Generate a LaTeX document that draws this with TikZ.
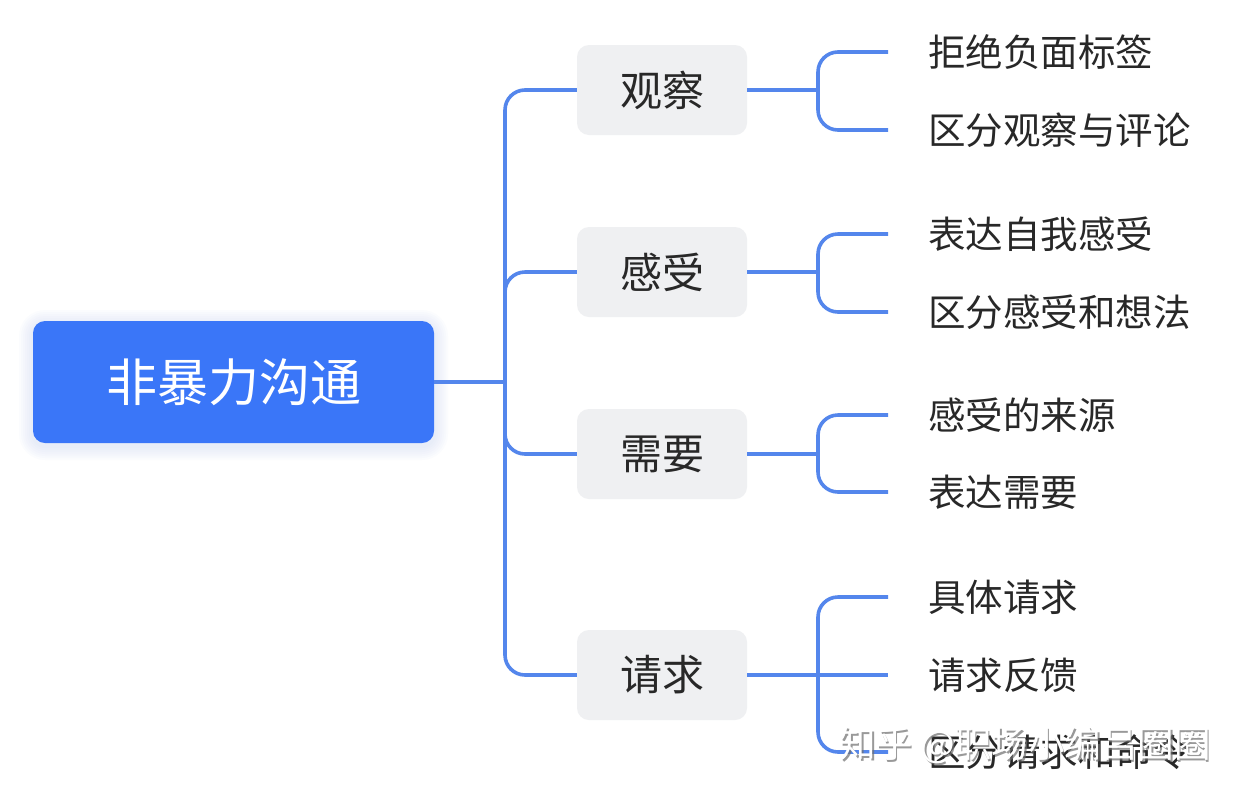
\documentclass[tikz,border=0pt]{standalone}
\usepackage{fontspec}
\setmainfont{Noto Sans CJK SC}
\newfontfamily\wmfont{Noto Sans CJK SC}
\definecolor{rootblue}{RGB}{58,118,248}
\definecolor{linkblue}{RGB}{84,134,236}
\definecolor{boxgray}{RGB}{239,240,242}
\definecolor{textdark}{RGB}{40,40,40}
\definecolor{wmgray}{RGB}{110,110,110}
\tikzset{
  rootbox/.style={fill=rootblue, text=white, rounded corners=12pt, minimum width=401pt, minimum height=122pt, font=\fontsize{51}{51}\selectfont, inner sep=0pt},
  midbox/.style={fill=boxgray, text=textdark, rounded corners=12pt, minimum width=170pt, minimum height=90pt, font=\fontsize{42}{42}\selectfont, inner sep=0pt},
  leaf/.style={anchor=west, text=textdark, font=\fontsize{37.5}{37.5}\selectfont, inner sep=0pt},
  conn/.style={draw=linkblue, line width=3.6pt, rounded corners=20pt},
  wm/.style={font=\wmfont\fontsize{36.5}{36.5}\selectfont, inner sep=0pt, anchor=west},
  glow/.style={fill=rootblue, fill opacity=0.014}
}
\begin{document}
\begin{tikzpicture}[x=1pt,y=-1pt]
\useasboundingbox (0,0) rectangle (1246,796);
\fill[white] (0,0) rectangle (1246,796);

% soft glow behind the root box
\foreach \g in {2,4,...,14} {
  \fill[glow, rounded corners=12pt+\g pt] (33-\g,324-\g) rectangle (434+\g,446+\g);
}

\coordinate (J) at (505,382);
\coordinate (K1) at (818,90);
\coordinate (K2) at (818,272);
\coordinate (K3) at (818,454);
\coordinate (K4) at (818,675);

\node[rootbox] (root) at (233.5,382) {非暴力沟通};
\node[midbox] (m1) at (662,90) {观察};
\node[midbox] (m2) at (662,272) {感受};
\node[midbox] (m3) at (662,454) {需要};
\node[midbox] (m4) at (662,675) {请求};

\node[leaf] (l11) at (928,52) {拒绝负面标签};
\node[leaf] (l12) at (928,130) {区分观察与评论};
\node[leaf] (l21) at (928,234) {表达自我感受};
\node[leaf] (l22) at (928,312) {区分感受和想法};
\node[leaf] (l31) at (928,415) {感受的来源};
\node[leaf] (l32) at (928,492) {表达需要};
\node[leaf] (l41) at (928,597) {具体请求};
\node[leaf] (l42) at (928,675) {请求反馈};
\node[leaf] (l43) at (928,752) {区分请求和命令};

\draw[conn] (root.east) -- (J);
\draw[conn] (J) |- (m1.west);
\draw[conn] (J) |- (m2.west);
\draw[conn] (J) |- (m3.west);
\draw[conn] (J) |- (m4.west);

\draw[conn] (m1.east) -- (K1);
\draw[conn] (K1) |- ([xshift=-40pt]l11.west);
\draw[conn] (K1) |- ([xshift=-40pt]l12.west);
\draw[conn] (m2.east) -- (K2);
\draw[conn] (K2) |- ([xshift=-40pt]l21.west);
\draw[conn] (K2) |- ([xshift=-40pt]l22.west);
\draw[conn] (m3.east) -- (K3);
\draw[conn] (K3) |- ([xshift=-40pt]l31.west);
\draw[conn] (K3) |- ([xshift=-40pt]l32.west);
\draw[conn] (m4.east) -- (K4);
\draw[conn] (K4) |- ([xshift=-40pt]l41.west);
\draw[conn] (m4.east) -- ([xshift=-40pt]l42.west);
\draw[conn] (K4) |- ([xshift=-40pt]l43.west);

% watermark (overlaps the last leaf, as in the reference)
\node[wm, text=wmgray, opacity=0.7] (wmshadow) at (840.8,746.8) {知乎 @职场小编吕圈圈};
\node[wm, text=white] (wmtext) at (839.5,745.5) {知乎 @职场小编吕圈圈};
\end{tikzpicture}
\end{document}
